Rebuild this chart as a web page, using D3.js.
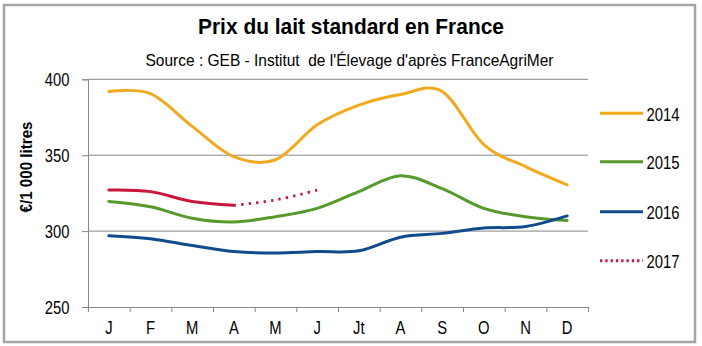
<!DOCTYPE html>
<html><head><meta charset="utf-8">
<script src="https://cdn.jsdelivr.net/npm/d3@7"></script>
<style>body{margin:0;background:#fff}svg{display:block}</style>
</head><body>
<svg id="c" width="702" height="346"></svg>
<script>
// ---- data ----
const months = ["J","F","M","A","M","J","Jt","A","S","O","N","D"];
const yTicks = [250, 300, 350, 400];
const years = ["2014", "2015", "2016", "2017"];
const v2014 = [392, 390.5, 369, 349, 347, 370, 383, 390, 392, 357, 342.5, 330.5];
const v2015 = [319.5, 316, 308.5, 306, 309.5, 315, 326, 336.5, 328, 315, 309.5, 307];
const v2016 = [297, 295, 290.5, 286.5, 285.5, 286.5, 287, 296, 298.5, 302, 303, 310];
const v2017 = [327, 326, 319.5, 317, 320.5, 327];
const v2017SolidUpTo = 3; // index of "A" : solid up to here, dotted afterwards

const colors = ["#F1A91E", "#569A2C", "#104C8D", "#C8163D"];
const FONT = "'Liberation Sans',Arial,sans-serif";
const NARROW_RATIO = 0.8;

const svg = d3.select("#c");
const L = 88, R = 588, T = 79.3, B = 307;

function narrow(sel) {
  sel.each(function () {
    const w = this.getComputedTextLength();
    d3.select(this).attr("textLength", w * NARROW_RATIO).attr("lengthAdjust", "spacingAndGlyphs");
  });
}

// frame
svg.append("rect").attr("x", 4).attr("y", 5).attr("width", 691).attr("height", 337)
  .attr("fill", "#fff").attr("stroke", "#A5A5A5").attr("stroke-width", 2.5);

// titles
svg.append("text").attr("x", 198).attr("y", 34)
  .attr("font-family", FONT).attr("font-weight", "bold").attr("font-size", 22)
  .attr("textLength", 306).attr("lengthAdjust", "spacingAndGlyphs")
  .attr("fill", "#000").text("Prix du lait standard en France");
svg.append("text").attr("x", 145.5).attr("y", 66)
  .attr("font-family", FONT).attr("font-size", 16.5).style("white-space", "pre")
  .attr("textLength", 408).attr("lengthAdjust", "spacingAndGlyphs")
  .attr("fill", "#000").text("Source : GEB - Institut  de l'Élevage d'après FranceAgriMer");

// scales
const idx = d3.range(months.length);
const xBand = d3.scaleBand().domain(idx).range([L, R]);
const xEdge = d3.scaleLinear().domain([0, months.length]).range([L, R]);
const xc = i => xBand(i) + xBand.bandwidth() / 2;
const y = d3.scaleLinear().domain([250, 400]).range([B, T]);

// gridlines
svg.append("g").selectAll("line").data(yTicks.filter(t => t > 250)).join("line")
  .attr("x1", L).attr("x2", R).attr("y1", d => y(d)).attr("y2", d => y(d))
  .attr("stroke", "#878787").attr("stroke-width", 1);

// y axis
const gy = svg.append("g").attr("transform", `translate(${L},0)`)
  .call(d3.axisLeft(y).tickValues(yTicks).tickSize(6).tickPadding(12.5));
gy.select(".domain").attr("stroke", "#878787");
gy.selectAll(".tick line").attr("stroke", "#878787");
gy.selectAll(".tick text").attr("font-family", FONT).attr("font-size", 18.5)
  .attr("fill", "#000").attr("dy", "0.35em").call(narrow);

// x axis: tick marks at month boundaries, labels at centers
const gx = svg.append("g").attr("transform", `translate(0,${B})`)
  .call(d3.axisBottom(xEdge).tickValues(d3.range(months.length + 1)).tickSize(5).tickFormat(""));
gx.select(".domain").attr("stroke", "#878787");
gx.selectAll(".tick line").attr("stroke", "#878787");
const gxl = svg.append("g").attr("transform", `translate(0,${B})`)
  .call(d3.axisBottom(xBand).tickSize(0).tickPadding(14).tickFormat(i => months[i]));
gxl.select(".domain").remove();
gxl.selectAll(".tick text").attr("font-family", FONT).attr("font-size", 18.5)
  .attr("fill", "#000").call(narrow);

// y axis title
svg.append("text").attr("transform", "translate(32,167) rotate(-90)")
  .attr("text-anchor", "middle").attr("font-family", FONT).attr("font-weight", "bold")
  .attr("font-size", 17).attr("fill", "#000")
  .attr("textLength", 91).attr("lengthAdjust", "spacingAndGlyphs").text("€/1 000 litres");

// lines
const line = d3.line().x((d, i) => xc(i)).y(d => y(d)).curve(d3.curveCardinal.tension(0));
const series = [v2014, v2015, v2016];
series.forEach((s, k) => {
  svg.append("path").attr("d", line(s)).attr("fill", "none")
    .attr("stroke", colors[k]).attr("stroke-width", 3).attr("stroke-linecap", "round");
});
// 2017 : solid part then dotted part
const s17a = v2017.slice(0, v2017SolidUpTo + 1);
const s17b = v2017.slice(v2017SolidUpTo);
svg.append("path").attr("d", line(s17a)).attr("fill", "none")
  .attr("stroke", colors[3]).attr("stroke-width", 3).attr("stroke-linecap", "round");
const lineB = d3.line().x((d, i) => xc(i + v2017SolidUpTo)).y(d => y(d)).curve(d3.curveCardinal.tension(0));
svg.append("path").attr("d", lineB(s17b)).attr("fill", "none")
  .attr("stroke", colors[3]).attr("stroke-width", 2.8).attr("stroke-dasharray", "2.3,5.2");

// legend
const legY = [113.3, 161.7, 211.7, 260.7];
years.forEach((yr, k) => {
  const g = svg.append("g");
  g.append("line").attr("x1", 600).attr("x2", 643).attr("y1", legY[k]).attr("y2", legY[k])
    .attr("stroke", colors[k]).attr("stroke-width", 3)
    .attr("stroke-dasharray", k === 3 ? "2.3,3" : null);
  g.append("text").attr("x", 646.5).attr("y", legY[k] + 7.5)
    .attr("font-family", FONT).attr("font-size", 18.5).attr("fill", "#000")
    .attr("textLength", 33).attr("lengthAdjust", "spacingAndGlyphs").text(yr);
});
</script>
</body></html>
